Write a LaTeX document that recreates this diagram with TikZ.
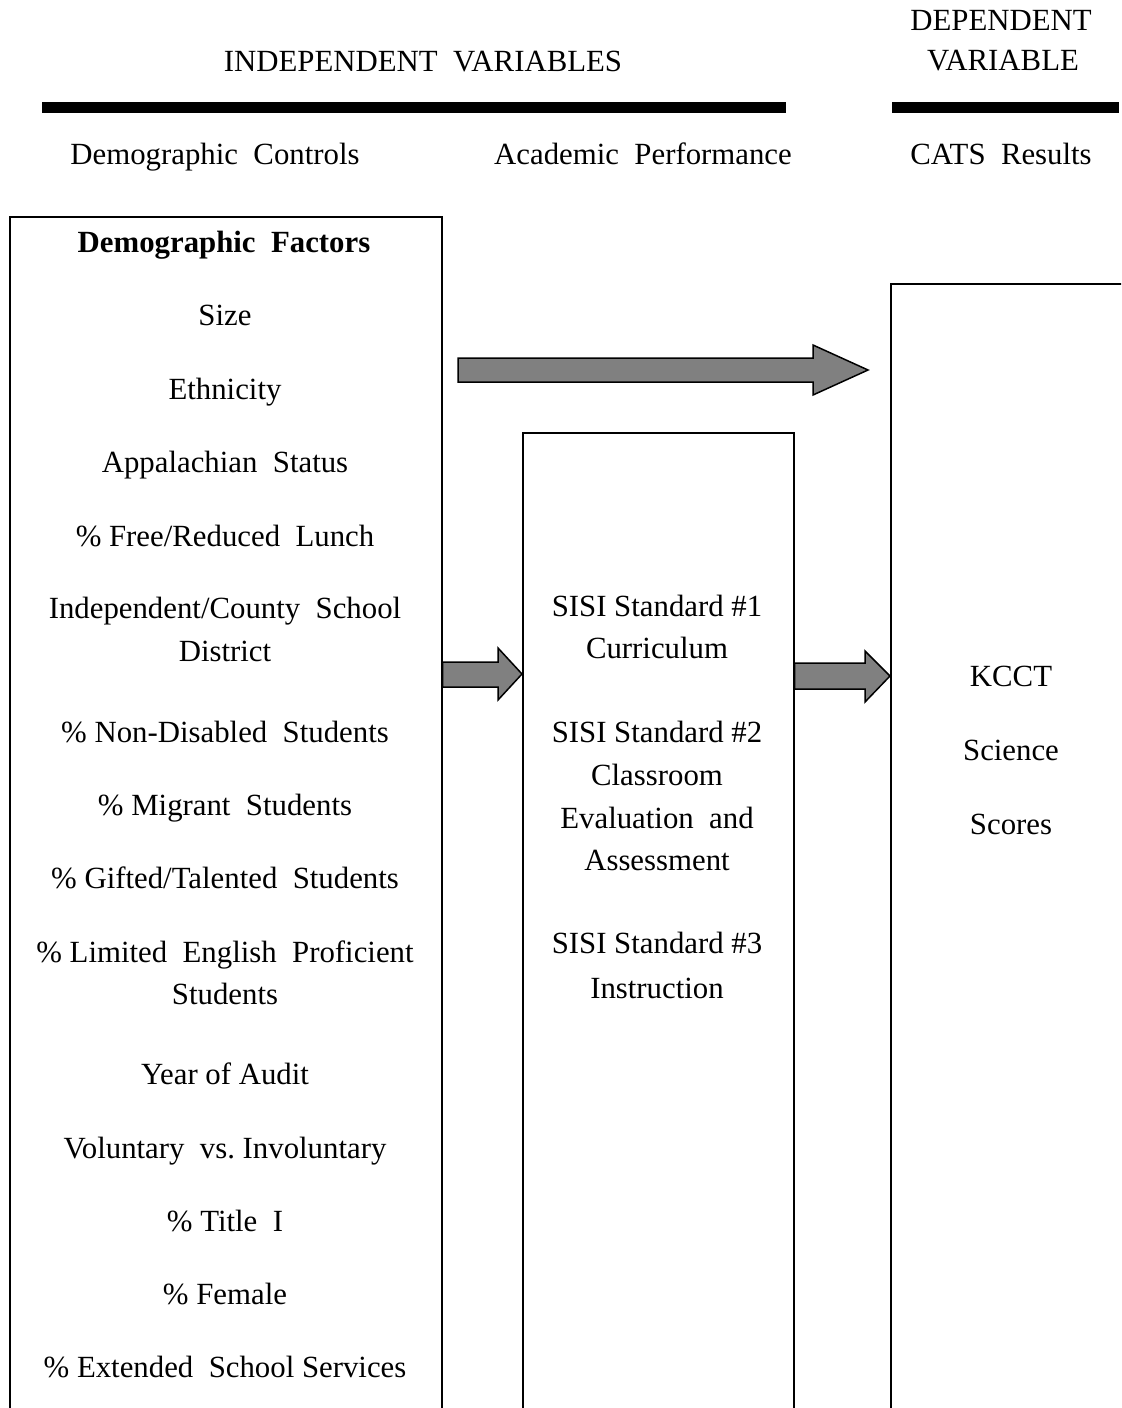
\documentclass[tikz,border=0pt]{standalone}
\usepackage{fontspec}
\setmainfont{Liberation Serif}
\begin{document}
\begin{tikzpicture}[x=0.5pt,y=-0.5pt,
  txt/.style={font=\fontsize{15.4}{18}\selectfont, inner sep=0pt, text height=0.68em, text depth=0.2em, anchor=center},
  colbox/.style={draw=black, line width=0.75pt, anchor=north west, inner sep=0pt},
  bar/.style={fill=black, draw=none},
  blockarrow/.style={fill=black!50, draw=black, line width=0.75pt, line join=miter}
]
\useasboundingbox (0,0) rectangle (1121,1408);
\clip (0,0) rectangle (1121,1408);
\fill[white] (0,0) rectangle (1121,1408);

% headings
\node[txt] (indep) at (423,67) {INDEPENDENT\ \ VARIABLES};
\node[txt] (dep1) at (1001,26) {DEPENDENT};
\node[txt] (dep2) at (1003,66) {VARIABLE};
\fill[bar] (42,102) rectangle (786,113);
\fill[bar] (892,102) rectangle (1119,113);
\node[txt] (democ) at (215,160) {Demographic\ \ Controls};
\node[txt] (acad) at (643,160) {Academic\ \ Performance};
\node[txt] (cats) at (1001,160) {CATS\ \ Results};

% boxes (open below the page edge)
\node[colbox, minimum width=216pt, minimum height=640pt] (demo) at (9,216) {};
\node[colbox, minimum width=135.5pt, minimum height=520pt] (sisi) at (522,432) {};
\node[colbox, minimum width=130pt, minimum height=600pt] (kcct) at (890,283) {};

% left box texts
\node[txt, font=\fontsize{15.4}{18}\selectfont\bfseries] (df) at (224,248) {Demographic\ \ Factors};
\node[txt] (l1) at (225,321) {Size};
\node[txt] (l2) at (225,395) {Ethnicity};
\node[txt] (l3) at (225,468) {Appalachian\ \ Status};
\node[txt] (l4) at (225,542) {\%\ Free/Reduced\ \ Lunch};
\node[txt] (l5a) at (225,614) {Independent/County\ \ School};
\node[txt] (l5b) at (225,657) {District};
\node[txt] (l6) at (225,738) {\%\ Non-Disabled\ \ Students};
\node[txt] (l7) at (225,811) {\%\ Migrant\ \ Students};
\node[txt] (l8) at (225,884) {\%\ Gifted/Talented\ \ Students};
\node[txt] (l9a) at (225,958) {\%\ Limited\ \ English\ \ Proficient};
\node[txt] (l9b) at (225,1000) {Students};
\node[txt] (l10) at (225,1080) {Year of Audit};
\node[txt] (l11) at (225,1154) {Voluntary\ \ vs.\ Involuntary};
\node[txt] (l12) at (225,1227) {\%\ Title\ \ I};
\node[txt] (l13) at (225,1300) {\%\ Female};
\node[txt] (l14) at (225,1373) {\%\ Extended\ \ School Services};

% middle box texts
\node[txt] (m1a) at (657,612) {SISI Standard \#1};
\node[txt] (m1b) at (657,654) {Curriculum};
\node[txt] (m2a) at (657,738) {SISI Standard \#2};
\node[txt] (m2b) at (657,781) {Classroom};
\node[txt] (m2c) at (657,824) {Evaluation\ \ and};
\node[txt] (m2d) at (657,866) {Assessment};
\node[txt] (m3a) at (657,949) {SISI Standard \#3};
\node[txt] (m3b) at (657,994) {Instruction};

% right box texts
\node[txt] (r1) at (1011,682) {KCCT};
\node[txt] (r2) at (1011,756) {Science};
\node[txt] (r3) at (1011,830) {Scores};

% block arrows
\draw[blockarrow] (458,358) -- (813,358) -- (813,345) -- (868,370) -- (813,395) -- (813,382) -- (458,382) -- cycle;
\draw[blockarrow] (demo.north east |- 0,662) -- (498,662) -- (498,648) -- (sisi.north west |- 0,674) -- (498,700) -- (498,687) -- (demo.north east |- 0,687) -- cycle;
\draw[blockarrow] (sisi.north east |- 0,663) -- (865,663) -- (865,651) -- (kcct.north west |- 0,676) -- (865,702) -- (865,689) -- (sisi.north east |- 0,689) -- cycle;
\end{tikzpicture}
\end{document}
